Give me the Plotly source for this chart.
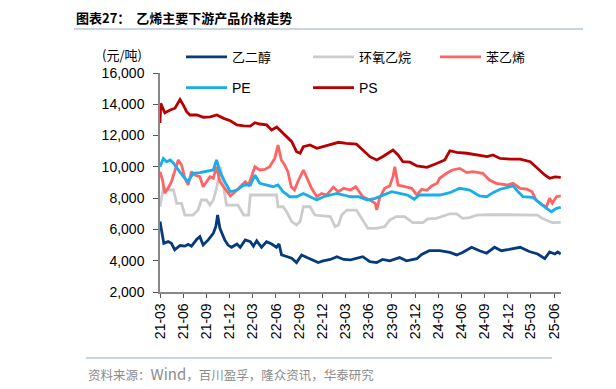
import plotly.graph_objects as go

# ---------------- data ----------------
meg_dates = ["2021-03-01","2021-03-08","2021-03-16","2021-04-02","2021-04-15","2021-04-28","2021-05-19","2021-06-07",
             "2021-06-20","2021-07-03","2021-07-24","2021-08-05","2021-08-18","2021-09-07","2021-09-27","2021-10-07",
             "2021-10-14","2021-10-23","2021-11-11","2021-11-24","2021-12-08","2021-12-29","2022-01-11","2022-01-31",
             "2022-02-20","2022-03-04","2022-03-17","2022-04-05","2022-04-25","2022-05-15","2022-06-03","2022-06-13",
             "2022-06-23","2022-07-13","2022-08-02","2022-08-21","2022-09-10","2022-09-29","2022-10-25","2022-11-14",
             "2022-12-04","2023-01-01","2023-01-27","2023-02-23","2023-03-22","2023-05-09","2023-06-06","2023-07-03",
             "2023-07-26","2023-08-23","2023-10-01","2023-10-28","2023-12-08","2023-12-27","2024-01-26","2024-03-07",
             "2024-04-16","2024-05-13","2024-06-05","2024-07-11","2024-08-11","2024-09-08","2024-10-09","2024-11-05",
             "2024-12-06","2025-01-18","2025-02-23","2025-03-28","2025-04-25","2025-05-14","2025-06-04","2025-06-15",
             "2025-06-27"]
meg_values = [6500,5860,5110,5220,5110,4690,4970,4930,5050,4930,5370,5540,5000,5330,5750,6180,6920,6070,5330,5000,
              4860,5070,4860,5330,5220,4930,5270,4860,5220,5070,4860,5070,4370,4270,4160,3880,4370,4220,4050,3880,
              3990,4080,4260,4080,4050,4260,3940,3880,4080,3990,4200,3990,4130,4400,4640,4640,4530,4370,4530,4860,
              4640,4480,4860,4640,4720,4860,4590,4430,4130,4560,4430,4560,4430]

eo_dates = ["2021-03-01","2021-03-14","2021-04-10","2021-04-23","2021-05-06","2021-05-25","2021-06-07","2021-07-09",
            "2021-07-29","2021-08-11","2021-08-31","2021-09-14","2021-09-27","2021-10-10","2021-10-25","2021-11-05",
            "2021-11-18","2022-01-02","2022-01-25","2022-02-13","2022-02-20","2022-06-03","2022-06-09","2022-06-29",
            "2022-07-13","2022-08-02","2022-08-21","2022-09-04","2022-09-17","2022-10-13","2022-11-01","2022-12-05",
            "2023-01-01","2023-01-20","2023-02-02","2023-02-15","2023-03-07","2023-04-14","2023-05-10","2023-05-29",
            "2023-07-01","2023-08-03","2023-08-23","2023-09-18","2023-10-21","2023-11-22","2024-01-01","2024-01-20",
            "2024-02-23","2024-03-20","2024-04-16","2024-05-13","2024-06-05","2024-07-03","2024-08-01","2024-09-19",
            "2025-01-02","2025-01-29","2025-02-23","2025-03-28","2025-04-15","2025-05-04","2025-05-25","2025-06-27"]
eo_values = [7450,8630,8520,8520,7670,7670,6920,6920,7240,7880,7880,7560,7880,8630,10010,8730,7560,7560,6920,6920,
             8200,8200,7450,7450,7130,6500,6280,6500,7450,7450,6920,6870,6820,6180,6280,6920,7240,7240,6600,6070,
             6070,6180,6600,6820,6820,6430,6430,6670,6710,6860,7000,7000,6710,6760,6920,6950,6950,6920,6950,6920,
             6710,6600,6430,6450]

sm_dates = ["2021-03-01","2021-03-11","2021-03-20","2021-04-02","2021-04-15","2021-04-28","2021-05-12","2021-05-25",
            "2021-06-07","2021-06-20","2021-07-03","2021-07-16","2021-08-05","2021-08-18","2021-08-31","2021-09-14",
            "2021-09-27","2021-10-10","2021-10-23","2021-11-11","2021-12-03","2021-12-22","2022-01-11","2022-01-31",
            "2022-02-13","2022-02-25","2022-03-10","2022-03-29","2022-04-18","2022-05-07","2022-05-27","2022-06-09",
            "2022-06-22","2022-07-05","2022-07-18","2022-07-31","2022-08-13","2022-08-26","2022-09-17","2022-09-29",
            "2022-10-19","2022-11-09","2022-11-28","2022-12-18","2023-01-13","2023-02-02","2023-02-23","2023-03-22",
            "2023-04-11","2023-05-09","2023-06-06","2023-06-27","2023-07-03","2023-07-14","2023-08-03","2023-08-23",
            "2023-09-05","2023-09-12","2023-09-25","2023-10-21","2023-11-18","2023-12-08","2023-12-27","2024-01-17",
            "2024-02-04","2024-02-26","2024-03-07","2024-04-03","2024-04-26","2024-05-25","2024-06-22","2024-07-15",
            "2024-08-24","2024-09-19","2024-10-16","2024-11-27","2024-12-21","2025-01-18","2025-02-13","2025-03-06",
            "2025-03-22","2025-04-15","2025-05-02","2025-05-14","2025-05-25","2025-06-10","2025-06-27"]
sm_values = [9690,9160,8310,8630,9050,9800,10440,10120,9270,8840,9690,9480,9370,8730,9050,9370,9270,10010,9050,8630,
             8140,8410,8700,9050,8840,9480,10010,9800,9840,10010,10540,11400,10440,10120,9690,8730,8520,9050,9800,9370,
             8630,8090,8300,8200,8700,8410,8630,8520,8730,8090,7880,7670,7240,7990,8630,8780,9370,10010,8840,8730,
             8630,8200,8570,8500,8780,8950,9270,9590,9800,9900,9630,9690,9590,9160,8950,8840,8950,8630,8570,8410,
             7880,7560,7450,7990,7670,8090,8140]

pe_dates = ["2021-03-01","2021-03-14","2021-03-27","2021-04-10","2021-04-23","2021-05-12","2021-06-01","2021-06-20",
            "2021-07-09","2021-08-05","2021-08-31","2021-09-27","2021-10-10","2021-10-23","2021-11-11","2021-12-03",
            "2021-12-29","2022-01-25","2022-02-20","2022-03-10","2022-03-29","2022-04-25","2022-05-20","2022-06-09",
            "2022-06-29","2022-07-25","2022-08-21","2022-09-17","2022-10-13","2022-11-09","2022-12-05","2023-01-01",
            "2023-01-27","2023-02-23","2023-03-22","2023-04-22","2023-05-27","2023-06-27","2023-07-26","2023-08-31",
            "2023-10-01","2023-11-01","2023-11-28","2023-12-18","2024-01-26","2024-03-07","2024-04-16","2024-05-25",
            "2024-07-03","2024-08-11","2024-09-08","2024-10-03","2024-10-31","2024-11-27","2024-12-21","2025-01-10",
            "2025-01-29","2025-03-09","2025-04-05","2025-05-02","2025-05-21","2025-06-10","2025-06-27"]
pe_values = [10010,10540,10330,10440,10230,9800,9370,9050,9590,9630,9690,9800,10440,9690,9050,8410,8520,8840,8840,9480,
             8950,8840,8730,8840,8410,8090,8090,8300,8090,7880,8090,8200,8300,8200,8090,8090,7880,7990,8200,8410,
             8300,8200,7930,8200,8200,8200,8350,8630,8520,8140,8090,8350,8570,8700,8780,8410,8090,8050,7670,7350,
             7130,7350,7410]

ps_dates = ["2021-03-01","2021-03-04","2021-03-20","2021-04-10","2021-04-29","2021-05-19","2021-06-01","2021-06-14",
            "2021-06-27","2021-07-24","2021-08-19","2021-09-15","2021-10-11","2021-11-07","2021-12-03","2021-12-29",
            "2022-01-25","2022-02-20","2022-03-10","2022-03-29","2022-04-25","2022-05-15","2022-06-04","2022-06-23",
            "2022-07-13","2022-08-02","2022-08-21","2022-09-04","2022-09-17","2022-10-13","2022-11-09","2022-12-05",
            "2023-01-01","2023-02-03","2023-03-05","2023-04-14","2023-05-09","2023-06-06","2023-07-03","2023-07-26",
            "2023-09-05","2023-09-25","2023-10-14","2023-11-11","2023-12-08","2024-01-17","2024-02-26","2024-03-27",
            "2024-04-16","2024-05-13","2024-06-22","2024-08-01","2024-09-10","2024-10-03","2024-10-31","2024-12-09",
            "2025-01-18","2025-02-27","2025-03-28","2025-04-25","2025-05-14","2025-06-04","2025-06-27"]
ps_values = [12800,14060,13450,13640,13750,14300,13950,13530,13315,13315,13170,13200,13315,13100,12950,12680,12620,
             12600,12820,12740,12680,12360,12550,12250,11930,11610,10970,10870,11290,11400,11190,11300,11400,11570,
             11500,11450,11080,10650,10440,10650,11080,10760,10330,10300,10060,9970,10230,10440,11030,10930,10870,
             10760,10650,10760,10540,10500,10500,10330,9900,9480,9270,9360,9330]

tick_dates = ["2021-03-01","2021-06-01","2021-09-01","2021-12-01","2022-03-01","2022-06-01","2022-09-01","2022-12-01",
              "2023-03-01","2023-06-01","2023-09-01","2023-12-01","2024-03-01","2024-06-01","2024-09-01","2024-12-01",
              "2025-03-01","2025-06-01"]
tick_labels = ["21-03","21-06","21-09","21-12","22-03","22-06","22-09","22-12","23-03","23-06","23-09","23-12",
               "24-03","24-06","24-09","24-12","25-03","25-06"]
y_ticks = [2000, 4000, 6000, 8000, 10000, 12000, 14000, 16000]

# ---------------- figure ----------------
# the page body adds an 8px margin, so the design coordinates are shifted by OFF
OFF = 8
W, H = 616, 389
X0, X1, Y0, Y1 = 160, 561, 73, 292          # plot area in page pixels
L, T = X0 - OFF, Y0 - OFF
R, B = W - (X1 - OFF), H - (Y1 - OFF)
pw, ph = X1 - X0, Y1 - Y0
def px(x): return (x - X0) / pw
def py(y): return (Y1 - y) / ph

CJK = "Noto Sans CJK SC"
LAT = "Liberation Sans, Arial"

series = [
    ("乙二醇", meg_dates, meg_values, "#063A7E", "legend"),
    ("环氧乙烷", eo_dates, eo_values, "#CCCCCC", "legend"),
    ("苯乙烯", sm_dates, sm_values, "#FF6464", "legend"),
    ("PE", pe_dates, pe_values, "#16AEEB", "legend2"),
    ("PS", ps_dates, ps_values, "#B80000", "legend2"),
]

fig = go.Figure()
for name, d, v, c, lg in series:
    fig.add_trace(go.Scatter(x=d, y=v, name=name, mode="lines",
                             line=dict(color=c, width=2.8), legend=lg))

leg_common = dict(orientation="h", xref="container", yref="container", xanchor="left", yanchor="middle",
                  entrywidth=71, entrywidthmode="pixels", itemwidth=41, bgcolor="rgba(0,0,0,0)",
                  traceorder="normal", x=(181 - OFF) / W)
fig.update_layout(
    width=W, height=H,
    margin=dict(l=L, r=R, t=T, b=B, autoexpand=False),
    paper_bgcolor="white", plot_bgcolor="white",
    font=dict(family=LAT, size=14, color="#000000"),
    showlegend=True,
    legend=dict(y=1 - (57 - OFF) / H, font=dict(family=CJK, size=13, color="#000"), **leg_common),
    legend2=dict(y=1 - (88 - OFF) / H, font=dict(family=LAT, size=14, color="#000"), **leg_common),
    xaxis=dict(type="date", range=["2021-03-01", "2025-06-28"], tickvals=tick_dates, ticktext=tick_labels,
               tickangle=-90, ticks="outside", ticklen=4, tickcolor="#555", showline=True, linecolor="#888",
               linewidth=1.5, showgrid=False, zeroline=False, tickfont=dict(family=LAT, size=14, color="#000")),
    yaxis=dict(range=[2000, 16000], tickvals=y_ticks, tickformat=",", ticks="outside", ticklen=5,
               ticklabelstandoff=6,
               tickcolor="#555", showline=True, linecolor="#888", linewidth=1.5, showgrid=False,
               zeroline=False, tickfont=dict(family=LAT, size=14, color="#000")),
)

anns = [
    dict(text="<b>图表27：  乙烯主要下游产品价格走势</b>", x=px(74), y=py(18), xanchor="left", yanchor="middle",
         font=dict(family=CJK, size=13, color="#000")),
    dict(text="<b>图</b>", x=px(606), y=py(18), xanchor="left", yanchor="middle",
         font=dict(family=CJK, size=13, color="#000")),
    dict(text="(元/吨)", x=px(144), y=py(55), xanchor="right", yanchor="middle",
         font=dict(family=CJK, size=13, color="#000")),
    dict(text="资料来源：<span style='font-size:15px'>Wind</span>，百川盈孚，隆众资讯，华泰研究",
         x=px(86), y=py(373), xanchor="left", yanchor="middle",
         font=dict(family=CJK, size=12.5, color="#8C8C8C")),
    dict(text="资", x=px(606), y=py(373), xanchor="left", yanchor="middle",
         font=dict(family=CJK, size=12, color="#8C8C8C")),
]
for a in anns:
    fig.add_annotation(xref="paper", yref="paper", showarrow=False, **a)

line_col = "#C9D5E3"
fig.add_shape(type="line", xref="paper", yref="paper", x0=px(74), x1=px(583), y0=py(29), y1=py(29),
              line=dict(color=line_col, width=2))
fig.add_shape(type="line", xref="paper", yref="paper", x0=px(611), x1=px(640), y0=py(29), y1=py(29),
              line=dict(color=line_col, width=2))
fig.add_shape(type="line", xref="paper", yref="paper", x0=px(86), x1=px(552), y0=py(358), y1=py(358),
              line=dict(color=line_col, width=2))
fig.add_shape(type="line", xref="paper", yref="paper", x0=px(613), x1=px(640), y0=py(358), y1=py(358),
              line=dict(color=line_col, width=2))

fig.write_html("out.html")
